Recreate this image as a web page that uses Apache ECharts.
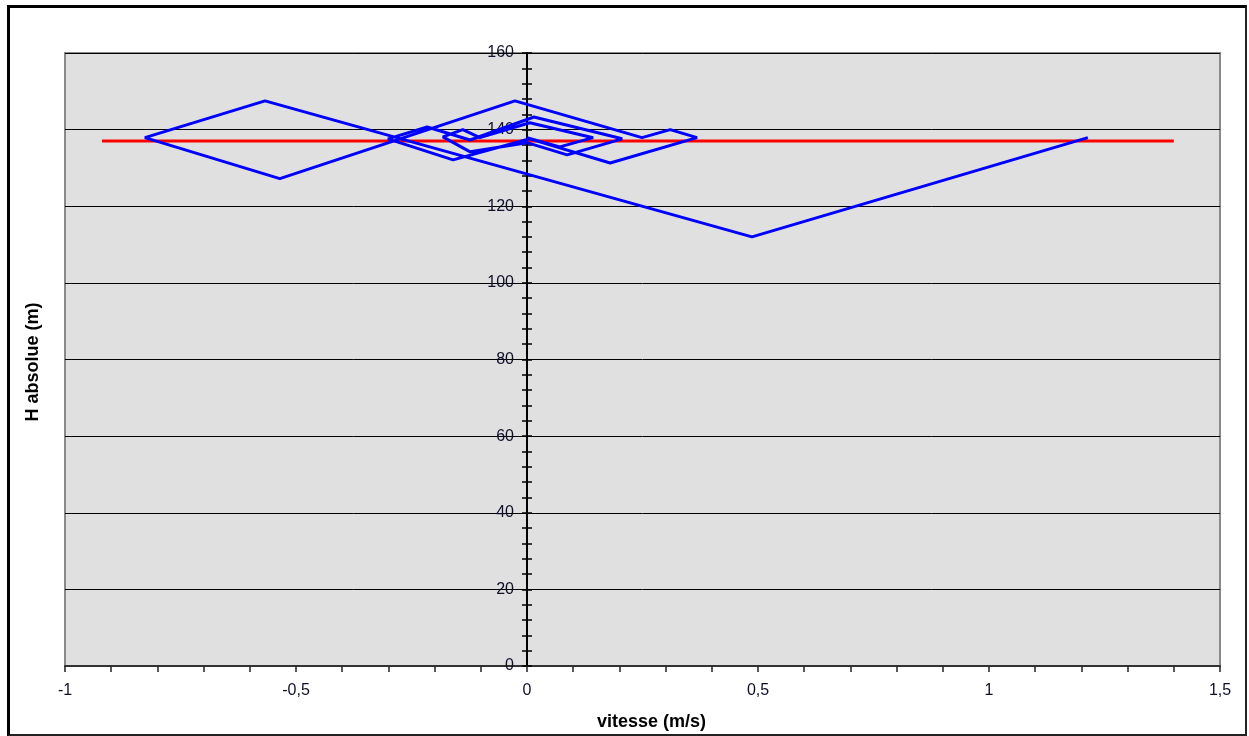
<!DOCTYPE html>
<html>
<head>
<meta charset="utf-8">
<script src="https://cdn.jsdelivr.net/npm/echarts@6/dist/echarts.min.js"></script>
<style>
html,body{margin:0;padding:0;background:#fff;}
#chart{position:absolute;left:0;top:0;width:1249px;height:736px;}
#frame{position:absolute;left:7px;top:5px;width:1235px;height:726px;border-left:3px solid #000;border-top:3px solid #000;border-right:2px solid #222;border-bottom:2px solid #222;pointer-events:none;}
</style>
</head>
<body>
<div id="chart"></div>
<div id="frame"></div>
<script>
// Blue path: [vitesse, H]
const blueX = [1.214, 0.487, -0.567, -0.827, -0.535, -0.026, 0.249, 0.310, 0.368, 0.180, 0.006, -0.160, -0.301, -0.216, -0.123, 0.015, 0.206, 0.087, 0.000, -0.123, -0.182, -0.139, -0.102, 0.006, 0.143, 0.071, 0.000];
const blueY = [137.9, 112.0, 147.5, 137.9, 127.2, 147.5, 137.9, 140.0, 137.9, 131.3, 137.6, 132.1, 137.6, 140.7, 137.3, 143.3, 137.6, 133.4, 136.6, 134.2, 138.1, 140.0, 137.9, 141.8, 137.9, 135.5, 137.9];
// Red line (reservoir level)
const redX = [-0.92, 1.40];
const redY = [137, 137];
// Axes
const xTicks = [-1, -0.5, 0, 0.5, 1, 1.5];
const yTicks = [0, 20, 40, 60, 80, 100, 120, 140, 160];

const W = 1249, H = 736;
const gridL = 65, gridR = 29, gridT = 53, gridB = 70;
const xMin = xTicks[0], xMax = xTicks[xTicks.length - 1];
// the vertical axis crosses the horizontal one at vitesse = 0
const yAxisOffset = -((0 - xMin) / (xMax - xMin)) * (W - gridL - gridR);

const chart = echarts.init(document.getElementById('chart'));
const font = '"Liberation Sans", Arial, sans-serif';
const zip = (a, b) => a.map((v, i) => [v, b[i]]);
const tickStyle = { color: '#000', width: 1.5 };
const labelColor = '#0f0f2a';

chart.setOption({
  animation: false,
  backgroundColor: '#fff',
  grid: {
    left: gridL, top: gridT, right: gridR, bottom: gridB,
    containLabel: false, outerBoundsMode: 'none',
    show: true, backgroundColor: '#e0e0e0', borderColor: '#8a8a8a', borderWidth: 2
  },
  xAxis: {
    type: 'value', min: xMin, max: xMax, interval: 0.5,
    name: 'vitesse (m/s)', nameLocation: 'middle', nameGap: 47,
    nameTextStyle: { fontFamily: font, fontSize: 18, fontWeight: 'bold', color: '#000', padding: [0, 0, 0, 18] },
    axisLine: { show: true, lineStyle: { color: '#333', width: 2 } },
    axisTick: { show: true, length: 6, lineStyle: { color: '#222', width: 1.5 } },
    minorTick: { show: true, splitNumber: 5, length: 6, lineStyle: { color: '#222', width: 1.5 } },
    splitLine: { show: false },
    axisLabel: {
      fontFamily: font, fontSize: 16, color: labelColor, margin: 17,
      formatter: v => String(v).replace('.', ',')
    }
  },
  yAxis: [{
    type: 'value', min: yTicks[0], max: yTicks[yTicks.length - 1], interval: 20,
    position: 'left', offset: yAxisOffset,
    axisLine: { show: true, onZero: false, lineStyle: { color: '#000', width: 2 } },
    axisTick: { show: true, length: 5, lineStyle: tickStyle },
    minorTick: { show: true, splitNumber: 5, length: 5, lineStyle: tickStyle },
    splitLine: { show: true, lineStyle: { color: '#000', width: 1 } },
    axisLabel: { fontFamily: font, fontSize: 16, color: labelColor, margin: 13 }
  }, {
    type: 'value', min: yTicks[0], max: yTicks[yTicks.length - 1], interval: 20,
    position: 'left', offset: yAxisOffset,
    axisLine: { show: false, onZero: false },
    axisTick: { show: true, inside: true, length: 5, lineStyle: tickStyle },
    minorTick: { show: true, splitNumber: 5, length: 5, lineStyle: tickStyle },
    splitLine: { show: false },
    axisLabel: { show: false }
  }],
  graphic: [{
    type: 'text', x: 33, y: 362, rotation: Math.PI / 2,
    style: { text: 'H absolue (m)', fontFamily: font, fontSize: 18, fontWeight: 'bold', fill: '#000', textAlign: 'center', textVerticalAlign: 'middle' }
  }],
  series: [{
    type: 'line', yAxisIndex: 0, data: zip(redX, redY), symbol: 'none',
    lineStyle: { color: '#ff0000', width: 3 }, z: 3
  }, {
    type: 'line', yAxisIndex: 0, data: zip(blueX, blueY), symbol: 'none',
    lineStyle: { color: '#0000ff', width: 3 }, z: 4
  }]
});
</script>
</body>
</html>
